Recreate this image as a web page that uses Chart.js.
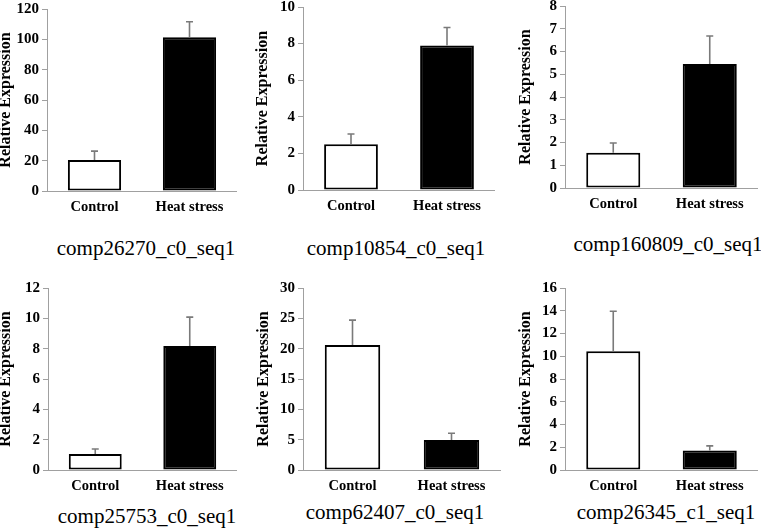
<!DOCTYPE html>
<html>
<head>
<meta charset="utf-8">
<script src="https://cdn.jsdelivr.net/npm/chart.js@4.4.1/dist/chart.umd.min.js"></script>
<style>
  html, body { margin: 0; padding: 0; background: #fff; }
  body { width: 761px; height: 532px; position: relative; overflow: hidden; }
  .panel { position: absolute; }
  .caption { position: absolute; width: 300px; text-align: center; white-space: nowrap;
    font-family: 'Liberation Serif', 'Times New Roman', serif; font-size: 21px; line-height: 21px; color: #000; }
</style>
</head>
<body>
<script>
// ---------- data ----------
const categories = ['Control', 'Heat stress'];
const geneNames = ['comp26270_c0_seq1', 'comp10854_c0_seq1', 'comp160809_c0_seq1',
                   'comp25753_c0_seq1', 'comp62407_c0_seq1', 'comp26345_c1_seq1'];
const controlValues = [20.4, 2.5, 1.55, 1.05, 20.6, 10.45];
const heatValues    = [101.3, 7.9, 5.45, 8.18, 4.95, 1.72];
const controlErrors = [5.9, 0.56, 0.43, 0.33, 4.1, 3.5];
const heatErrors    = [10.3, 0.98, 1.23, 1.9, 1.1, 0.4];
const yMaxValues    = [120, 10, 8, 12, 30, 16];
const yStepValues   = [20, 1, 1, 2, 5, 2];
const yAxisTitle = 'Relative Expression';

// ---------- layout (page pixels) ----------
const panelBoxes = [
  { left: -2,  top: -10, width: 239, height: 231, padTop: 19, yWidth: 49 },
  { left: 255, top: -10, width: 240, height: 230, padTop: 17, yWidth: 48 },
  { left: 518, top: -10, width: 240, height: 228, padTop: 16, yWidth: 47 },
  { left: -2,  top: 256, width: 239, height: 244, padTop: 32, yWidth: 50 },
  { left: 256, top: 256, width: 245, height: 244, padTop: 32, yWidth: 47 },
  { left: 518, top: 256, width: 240, height: 244, padTop: 32, yWidth: 47 }
];
const captionPos = [
  { cx: 146, baseline: 256 }, { cx: 396, baseline: 256 }, { cx: 668, baseline: 252 },
  { cx: 147, baseline: 524 }, { cx: 395, baseline: 520 }, { cx: 666, baseline: 520 }
];

const serif = "'Liberation Serif', 'Times New Roman', serif";
const axisGray = '#a0a0a0';
Chart.defaults.color = '#000';
Chart.defaults.font.family = serif;

const errorBarPlugin = {
  id: 'errorBars',
  afterDatasetsDraw(chart) {
    const { ctx } = chart;
    const yScale = chart.scales.y;
    const ds = chart.data.datasets[0];
    const meta = chart.getDatasetMeta(0);
    ctx.save();
    ctx.strokeStyle = '#7a7a7a';
    ctx.lineWidth = 1.6;
    meta.data.forEach((bar, i) => {
      const v = ds.data[i];
      const e = ds.errors[i];
      const yBase = yScale.getPixelForValue(v);
      const yTop = yScale.getPixelForValue(v + e);
      ctx.beginPath();
      ctx.moveTo(bar.x, yBase);
      ctx.lineTo(bar.x, yTop);
      ctx.moveTo(bar.x - 3.5, yTop);
      ctx.lineTo(bar.x + 3.5, yTop);
      ctx.stroke();
    });
    ctx.restore();
  }
};

geneNames.forEach((name, i) => {
  const box = panelBoxes[i];
  const div = document.createElement('div');
  div.className = 'panel';
  div.style.left = box.left + 'px';
  div.style.top = box.top + 'px';
  div.style.width = box.width + 'px';
  div.style.height = box.height + 'px';
  const canvas = document.createElement('canvas');
  div.appendChild(canvas);
  document.body.appendChild(div);

  new Chart(canvas, {
    type: 'bar',
    data: {
      labels: categories,
      datasets: [{
        data: [controlValues[i], heatValues[i]],
        errors: [controlErrors[i], heatErrors[i]],
        backgroundColor: ['#ffffff', '#000000'],
        borderColor: '#000000',
        borderWidth: 2,
        borderSkipped: false,
        categoryPercentage: 1.0,
        barPercentage: 0.56
      }]
    },
    options: {
      responsive: true,
      maintainAspectRatio: false,
      animation: false,
      events: [],
      layout: { padding: { left: 0, right: 0, top: box.padTop, bottom: 0 } },
      plugins: { legend: { display: false }, tooltip: { enabled: false } },
      scales: {
        x: {
          afterFit: s => { s.height = 30; },
          grid: { display: false, drawTicks: false },
          border: { display: true, color: axisGray, width: 1 },
          ticks: { padding: 8, font: { family: serif, size: 14.5, weight: 'bold' }, color: '#000' }
        },
        y: {
          min: 0,
          max: yMaxValues[i],
          afterFit: s => { s.width = box.yWidth; },
          ticks: { stepSize: yStepValues[i], padding: 3, font: { family: serif, size: 15, weight: 'bold' }, color: '#000' },
          grid: { display: true, drawOnChartArea: false, drawTicks: true, tickLength: 5, color: axisGray },
          border: { display: true, color: axisGray, width: 1 },
          title: { display: true, text: yAxisTitle, padding: 0,
                   font: { family: serif, size: 16, weight: 'bold', lineHeight: 1 }, color: '#000' }
        }
      }
    },
    plugins: [errorBarPlugin]
  });

  const cap = document.createElement('div');
  cap.className = 'caption';
  cap.textContent = name;
  cap.style.left = (captionPos[i].cx - 150) + 'px';
  cap.style.top = (captionPos[i].baseline - 17.6) + 'px';
  document.body.appendChild(cap);
});
</script>
</body>
</html>
